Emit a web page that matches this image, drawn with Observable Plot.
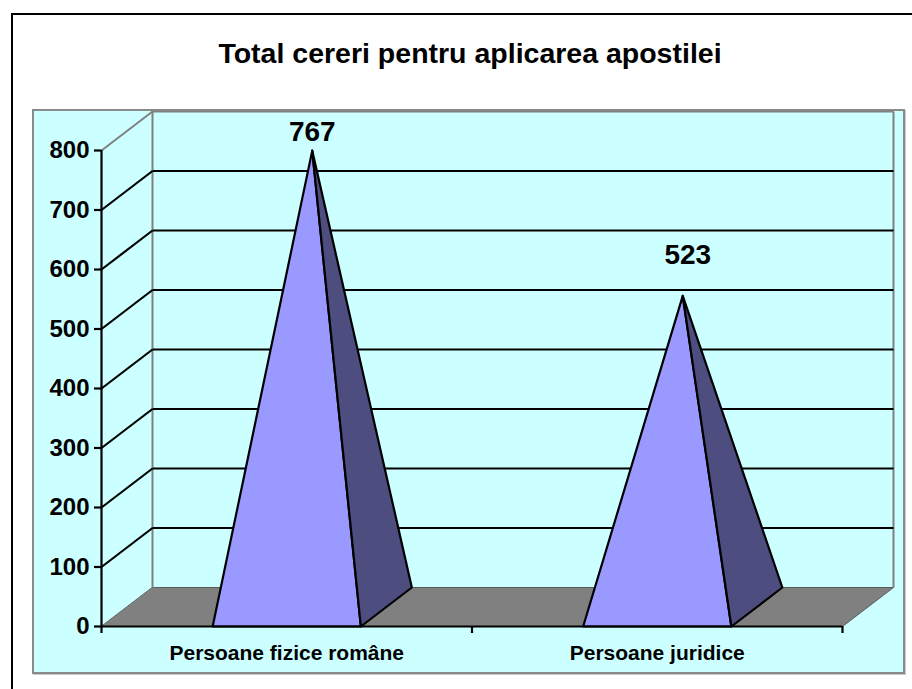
<!DOCTYPE html>
<html>
<head>
<meta charset="utf-8">
<script src="https://cdn.jsdelivr.net/npm/d3@7"></script>
<script src="https://cdn.jsdelivr.net/npm/@observablehq/plot@0.6"></script>
<style>
  html, body { margin: 0; padding: 0; background: #fff; }
  body { width: 912px; height: 689px; overflow: hidden; position: relative; font-family: "Liberation Sans", Arial, sans-serif; }
  #outer { position: absolute; left: 11px; top: 13px; width: 1000px; height: 1000px; border: 2px solid #000; box-sizing: border-box; }
  #area { position: absolute; left: 32px; top: 109px; width: 873px; height: 565px; background: #ccffff; border: 2px solid #8a8a8a; box-sizing: border-box; box-shadow: 1px 1px 0 #c8c8c8; }
  #title { position: absolute; left: 0; top: 39px; width: 940px; text-align: center; font-size: 28.5px; font-weight: bold; line-height: 28px; color: #000; }
  #chart { position: absolute; left: 0; top: 0; }
</style>
</head>
<body>
<div id="outer"></div>
<div id="area"></div>
<div id="title">Total cereri pentru aplicarea apostilei</div>
<div id="chart"></div>
<script>
// ---- data ----
const categories = ["Persoane fizice române", "Persoane juridice"];
const values = [767, 523];
const yTicks = [0, 100, 200, 300, 400, 500, 600, 700, 800];

// ---- layout (front plane of the 3D box) ----
const W = 912, H = 689;
const mL = 101, mR = 70, mT = 150, mB = 63;
const pxPerX = (W - mL - mR) / 2;        // px per category unit
const pxPerY = (H - mT - mB) / 800;      // px per value unit
const dX = 51 / pxPerX;                  // depth offset in x units
const dY = 39 / pxPerY;                  // depth offset in value units
const halfW = 0.2;                       // pyramid half base width (category units)

// polygons
const floor = [[0, 0], [2, 0], [2 + dX, dY], [dX, dY]].map(([x, y]) => ({x, y, id: "floor"}));
const front = [], side = [];
values.forEach((v, i) => {
  const c = i + 0.5;
  const apex = [c + dX / 2, v + dY / 2];
  [[c - halfW, 0], [c + halfW, 0], apex].forEach(([x, y]) => front.push({x, y, id: i}));
  [[c + halfW, 0], [c + halfW + dX, dY], apex].forEach(([x, y]) => side.push({x, y, id: i}));
});

// gridlines (back wall + side wall)
const grid = yTicks.filter(v => v > 0 && v < 800);
const backLines = grid.map(v => ({x1: dX, y1: v + dY, x2: 2 + dX, y2: v + dY}));
const sideLines = grid.map(v => ({x1: 0, y1: v, x2: dX, y2: v + dY}));
const grayLines = [
  {x1: 0, y1: 800, x2: dX, y2: 800 + dY},
  {x1: dX, y1: 800 + dY, x2: 2 + dX, y2: 800 + dY},
  {x1: dX, y1: dY, x2: dX, y2: 800 + dY},
  {x1: 2 + dX, y1: dY, x2: 2 + dX, y2: 800 + dY}
];
const labels = values.map((v, i) => ({x: i + 0.5 + dX / 2, y: v + dY / 2, text: String(v), i}));

const chart = Plot.plot({
  width: W, height: H,
  marginLeft: mL, marginRight: mR, marginTop: mT, marginBottom: mB,
  style: {background: "transparent", fontFamily: "'Liberation Sans', Arial, sans-serif", color: "#000", overflow: "visible"},
  x: {type: "linear", domain: [0, 2], axis: null},
  y: {type: "linear", domain: [0, 800], axis: null},
  marks: [
    Plot.line(floor, {x: "x", y: "y", z: "id", fill: "#808080", stroke: "#5a5a5a", strokeWidth: 1, curve: "linear-closed"}),
    Plot.link(grayLines, {x1: "x1", y1: "y1", x2: "x2", y2: "y2", stroke: "#808080", strokeWidth: 2}),
    Plot.link(backLines, {x1: "x1", y1: "y1", x2: "x2", y2: "y2", stroke: "#000", strokeWidth: 2.2}),
    Plot.link(sideLines, {x1: "x1", y1: "y1", x2: "x2", y2: "y2", stroke: "#000", strokeWidth: 2.2}),
    Plot.line(front, {x: "x", y: "y", z: "id", fill: "#9999ff", stroke: "#000", strokeWidth: 2.2, strokeLinejoin: "round", curve: "linear-closed"}),
    Plot.line(side, {x: "x", y: "y", z: "id", fill: "#4d4d80", stroke: "#000", strokeWidth: 2.2, strokeLinejoin: "round", curve: "linear-closed"}),
    Plot.ruleX([0], {y1: 0, y2: 800, stroke: "#000", strokeWidth: 2.2}),
    Plot.ruleY([0], {x1: 0, x2: 2, stroke: "#000", strokeWidth: 2.2}),
    Plot.axisY(yTicks, {anchor: "left", tickSize: 7, tickPadding: 5, strokeWidth: 2.2, fontSize: 24, fontWeight: "bold", tickFormat: d => String(d)}),
    Plot.axisX([0, 1, 2], {anchor: "bottom", tickSize: 7, strokeWidth: 2.2, tickFormat: () => ""}),
    Plot.text(categories, {x: (d, i) => i + 0.5, y: () => 0, text: d => d, dy: 27, fontSize: 21, fontWeight: "bold", fill: "#000"}),
    Plot.text(labels.filter(d => d.i === 0), {x: "x", y: "y", text: "text", dy: -19, fontSize: 28, fontWeight: "bold", fill: "#000"}),
    Plot.text(labels.filter(d => d.i === 1), {x: "x", y: "y", text: "text", dx: 5, dy: -41, fontSize: 28, fontWeight: "bold", fill: "#000"})
  ]
});
document.getElementById("chart").appendChild(chart);
</script>
</body>
</html>
